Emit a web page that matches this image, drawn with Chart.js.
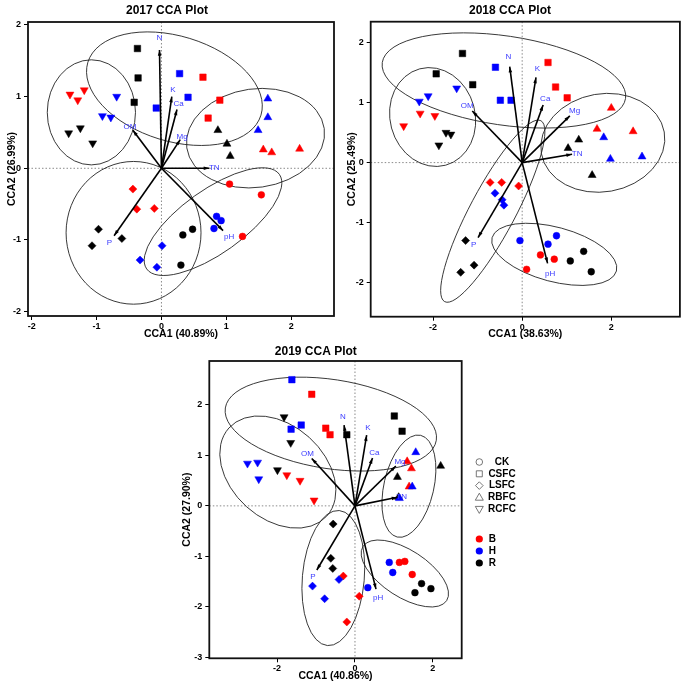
<!DOCTYPE html>
<html>
<head>
<meta charset="utf-8">
<script src="https://cdn.jsdelivr.net/npm/chart.js@4.4.0/dist/chart.umd.min.js"></script>
<style>
  body { margin: 0; background: #fff; width: 685px; height: 685px; position: relative; overflow: hidden; }
  .panel { position: absolute; }
</style>
</head>
<body>
<div class="panel" style="left:0;top:0;width:345px;height:345px"><canvas id="c2017"></canvas></div>
<div class="panel" style="left:340px;top:0;width:345px;height:345px"><canvas id="c2018"></canvas></div>
<div class="panel" style="left:170px;top:335px;width:360px;height:350px"><canvas id="c2019"></canvas></div>
<script>
// Categorias
const treatments = ['CK', 'CSFC', 'LSFC', 'RBFC', 'RCFC'];
const sites = ['B', 'H', 'R'];
const envVars = ['N', 'K', 'Ca', 'Mg', 'OM', 'TN', 'pH', 'P'];

// 2017 - puntos [CCA1, CCA2, sitio]
const ck2017 = [[1.05,-0.22,'B'],[1.54,-0.37,'B'],[1.25,-0.95,'B'],[0.85,-0.67,'H'],[0.92,-0.73,'H'],[0.81,-0.84,'H'],[0.33,-0.93,'R'],[0.48,-0.85,'R'],[0.30,-1.35,'R']];
const csfc2017 = [[0.64,1.27,'B'],[0.90,0.95,'B'],[0.72,0.70,'B'],[0.28,1.32,'H'],[0.41,0.99,'H'],[-0.08,0.84,'H'],[-0.37,1.67,'R'],[-0.36,1.26,'R'],[-0.42,0.92,'R']];
const lsfc2017 = [[-0.44,-0.29,'B'],[-0.38,-0.57,'B'],[-0.11,-0.56,'B'],[0.01,-1.08,'H'],[-0.33,-1.28,'H'],[-0.07,-1.38,'H'],[-0.97,-0.85,'R'],[-1.07,-1.08,'R'],[-0.61,-0.98,'R']];
const rbfc2017 = [[1.57,0.26,'B'],[1.70,0.22,'B'],[2.13,0.27,'B'],[1.64,0.97,'H'],[1.64,0.71,'H'],[1.49,0.53,'H'],[0.87,0.53,'R'],[1.01,0.34,'R'],[1.06,0.17,'R']];
const rcfc2017 = [[-1.41,1.03,'B'],[-1.29,0.95,'B'],[-1.19,1.09,'B'],[-0.69,1.00,'H'],[-0.91,0.73,'H'],[-0.78,0.71,'H'],[-1.43,0.49,'R'],[-1.25,0.56,'R'],[-1.06,0.35,'R']];
const envX2017 = [-0.03, 0.16, 0.24, 0.29, -0.44, 0.74, 0.95, -0.73];
const envY2017 = [1.65, 1.00, 0.82, 0.40, 0.53, 0.00, -0.87, -0.94];
// elipses [cx, cy, semieje a, semieje b, angulo] en orden CK, CSFC, LSFC, RBFC, RCFC
const ell2017 = [[0.795,-0.744,1.256,0.487,-35.5],[0.20,1.11,1.395,0.81,17],[-0.43,-0.90,1.10,1.04,90],[1.45,0.42,1.07,0.76,-8],[-1.08,0.78,0.81,0.68,90]];
const xLim2017 = [-2.057, 2.66];
const yLim2017 = [-2.06, 2.04];
const xTicks2017 = [-2, -1, 0, 1, 2];
const yTicks2017 = [-2, -1, 0, 1, 2];

// 2018
const ck2018 = [[0.41,-1.54,'B'],[0.72,-1.61,'B'],[0.10,-1.78,'B'],[-0.05,-1.30,'H'],[0.58,-1.36,'H'],[0.77,-1.22,'H'],[1.08,-1.64,'R'],[1.38,-1.48,'R'],[1.55,-1.82,'R']];
const csfc2018 = [[0.58,1.67,'B'],[0.75,1.26,'B'],[1.01,1.08,'B'],[-0.60,1.59,'H'],[-0.49,1.04,'H'],[-0.25,1.04,'H'],[-1.34,1.82,'R'],[-1.93,1.48,'R'],[-1.11,1.30,'R']];
const lsfc2018 = [[-0.72,-0.33,'B'],[-0.46,-0.33,'B'],[-0.08,-0.39,'B'],[-0.61,-0.51,'H'],[-0.45,-0.62,'H'],[-0.41,-0.71,'H'],[-1.27,-1.30,'R'],[-1.38,-1.83,'R'],[-1.08,-1.71,'R']];
const rbfc2018 = [[2.00,0.91,'B'],[1.68,0.56,'B'],[2.49,0.52,'B'],[1.83,0.42,'H'],[1.98,0.06,'H'],[2.69,0.10,'H'],[1.03,0.24,'R'],[1.27,0.38,'R'],[1.57,-0.21,'R']];
const rcfc2018 = [[-2.66,0.61,'B'],[-2.29,0.82,'B'],[-1.96,0.78,'B'],[-2.31,1.02,'H'],[-2.11,1.11,'H'],[-1.47,1.24,'H'],[-1.71,0.50,'R'],[-1.60,0.47,'R'],[-1.87,0.29,'R']];
const envX2018 = [-0.28, 0.31, 0.47, 1.07, -1.12, 1.12, 0.57, -0.99];
const envY2018 = [1.60, 1.42, 0.96, 0.78, 0.86, 0.14, -1.68, -1.25];
const ell2018 = [[0.72,-1.53,1.445,0.61,15],[-0.41,1.37,2.76,1.0,8.4],[-0.66,-0.81,2.30,0.51,-62],[1.81,0.33,1.40,1.10,-10],[-2.01,0.76,1.12,0.955,75]];
const xLim2018 = [-3.40, 3.54];
const yLim2018 = [-2.57, 2.35];
const xTicks2018 = [-2, 0, 2];
const yTicks2018 = [-2, -1, 0, 1, 2];

// 2019
const ck2019 = [[1.14,-1.12,'B'],[1.28,-1.10,'B'],[1.47,-1.36,'B'],[0.88,-1.12,'H'],[0.97,-1.32,'H'],[0.33,-1.62,'H'],[1.71,-1.54,'R'],[1.95,-1.64,'R'],[1.54,-1.72,'R']];
const csfc2019 = [[-1.11,2.21,'B'],[-0.75,1.54,'B'],[-0.64,1.41,'B'],[-1.62,2.50,'H'],[-1.64,1.52,'H'],[-1.38,1.60,'H'],[-0.21,1.41,'R'],[1.01,1.78,'R'],[1.21,1.48,'R']];
const lsfc2019 = [[-0.30,-1.39,'B'],[0.11,-1.79,'B'],[-0.21,-2.30,'B'],[-1.09,-1.59,'H'],[-0.41,-1.46,'H'],[-0.78,-1.84,'H'],[-0.56,-0.36,'R'],[-0.62,-1.04,'R'],[-0.57,-1.24,'R']];
const rbfc2019 = [[1.34,0.88,'B'],[1.45,0.74,'B'],[1.39,0.38,'B'],[1.56,1.06,'H'],[1.47,0.38,'H'],[1.14,0.15,'H'],[1.09,0.57,'R'],[2.20,0.79,'R'],[1.12,0.17,'R']];
const rcfc2019 = [[-1.75,0.61,'B'],[-1.41,0.50,'B'],[-1.05,0.11,'B'],[-2.76,0.84,'H'],[-2.50,0.86,'H'],[-2.47,0.53,'H'],[-1.82,1.76,'R'],[-1.65,1.25,'R'],[-1.99,0.71,'R']];
const envX2019 = [-0.28, 0.30, 0.45, 1.05, -1.11, 1.09, 0.54, -0.98];
const envY2019 = [1.60, 1.40, 0.95, 0.79, 0.94, 0.17, -1.65, -1.27];
const ell2019 = [[1.28,-1.34,1.28,0.60,33],[-0.62,1.62,2.74,1.145,8.7],[-0.556,-1.43,1.74,0.795,95],[1.385,0.39,1.34,0.64,103],[-1.98,0.67,1.69,1.20,42]];
const xLim2019 = [-3.74, 2.74];
const yLim2019 = [-3.02, 2.87];
const xTicks2019 = [-2, 0, 2];
const yTicks2019 = [-3, -2, -1, 0, 1, 2];

Chart.defaults.font.family = "'Liberation Sans', Arial, sans-serif";
Chart.defaults.color = '#000';

const siteColors = { B: '#ff0000', H: '#0000ff', R: '#000000' };
const shapeOf = { CK: 'circle', CSFC: 'rect', LSFC: 'rectRot', RBFC: 'triangle', RCFC: 'triangle' };
const sizeOf = { CK: 3.4, CSFC: 4.6, LSFC: 4.0, RBFC: 4.6, RCFC: 4.6 };

// Elipses, lineas en cero, flechas y recuadro
function overlayPlugin(ell, envX, envY) {
    return {
        id: 'ccaOverlay',
        beforeDatasetsDraw(chart) {
            const { ctx, chartArea: a, scales: { x, y } } = chart;
            ctx.save();
            ctx.beginPath();
            ctx.rect(a.left, a.top, a.right - a.left, a.bottom - a.top);
            ctx.clip();
            ctx.strokeStyle = '#8a8a8a';
            ctx.lineWidth = 1;
            ctx.setLineDash([1.5, 2]);
            ctx.beginPath();
            ctx.moveTo(x.getPixelForValue(0), a.top);
            ctx.lineTo(x.getPixelForValue(0), a.bottom);
            ctx.moveTo(a.left, y.getPixelForValue(0));
            ctx.lineTo(a.right, y.getPixelForValue(0));
            ctx.stroke();
            ctx.setLineDash([]);
            const k = x.getPixelForValue(1) - x.getPixelForValue(0);
            ctx.strokeStyle = '#222';
            ctx.lineWidth = 0.9;
            ell.forEach(e => {
                ctx.beginPath();
                ctx.ellipse(x.getPixelForValue(e[0]), y.getPixelForValue(e[1]), e[2] * k, e[3] * k, e[4] * Math.PI / 180, 0, 2 * Math.PI);
                ctx.stroke();
            });
            ctx.restore();
        },
        afterDatasetsDraw(chart) {
            const { ctx, chartArea: a, scales: { x, y } } = chart;
            const x0 = x.getPixelForValue(0), y0 = y.getPixelForValue(0);
            ctx.save();
            ctx.strokeStyle = '#000';
            ctx.fillStyle = '#000';
            ctx.lineWidth = 1.6;
            envVars.forEach((v, i) => {
                const x1 = x.getPixelForValue(envX[i]), y1 = y.getPixelForValue(envY[i]);
                const ang = Math.atan2(y1 - y0, x1 - x0);
                ctx.beginPath();
                ctx.moveTo(x0, y0);
                ctx.lineTo(x1, y1);
                ctx.stroke();
                // punta de flecha
                ctx.beginPath();
                ctx.moveTo(x1, y1);
                ctx.lineTo(x1 - 6 * Math.cos(ang - 0.3), y1 - 6 * Math.sin(ang - 0.3));
                ctx.lineTo(x1 - 6 * Math.cos(ang + 0.3), y1 - 6 * Math.sin(ang + 0.3));
                ctx.closePath();
                ctx.fill();
            });
            ctx.fillStyle = '#3b3bff';
            ctx.font = "8px 'Liberation Sans', Arial, sans-serif";
            ctx.textAlign = 'center';
            ctx.textBaseline = 'middle';
            envVars.forEach((v, i) => {
                ctx.fillText(v, x.getPixelForValue(envX[i] * 1.1), y.getPixelForValue(envY[i] * 1.1));
            });
            ctx.strokeStyle = '#111';
            ctx.lineWidth = 1.8;
            ctx.strokeRect(a.left, a.top, a.right - a.left, a.bottom - a.top);
            ctx.restore();
        }
    };
}

// Leyenda lateral del grafico 2019
function drawOpenShape(ctx, t, cx, cy) {
    ctx.beginPath();
    if (t === 'CK') {
        ctx.arc(cx, cy, 3.3, 0, 2 * Math.PI);
    } else if (t === 'CSFC') {
        ctx.rect(cx - 3, cy - 3, 6, 6);
    } else if (t === 'LSFC') {
        ctx.moveTo(cx, cy - 3.8); ctx.lineTo(cx + 3.8, cy); ctx.lineTo(cx, cy + 3.8); ctx.lineTo(cx - 3.8, cy); ctx.closePath();
    } else if (t === 'RBFC') {
        ctx.moveTo(cx, cy - 4.2); ctx.lineTo(cx + 4, cy + 2.8); ctx.lineTo(cx - 4, cy + 2.8); ctx.closePath();
    } else {
        ctx.moveTo(cx, cy + 4.2); ctx.lineTo(cx + 4, cy - 2.8); ctx.lineTo(cx - 4, cy - 2.8); ctx.closePath();
    }
    ctx.stroke();
}

const legendPlugin = {
    id: 'sideLegend',
    afterDraw(chart) {
        const { ctx, chartArea: a } = chart;
        ctx.save();
        ctx.font = "bold 10px 'Liberation Sans', Arial, sans-serif";
        ctx.textBaseline = 'middle';
        treatments.forEach((t, i) => {
            const cy = a.top + 101 + i * 11.8;
            ctx.strokeStyle = '#555';
            ctx.lineWidth = 0.8;
            drawOpenShape(ctx, t, a.right + 17.6, cy);
            ctx.fillStyle = '#000';
            ctx.textAlign = 'center';
            ctx.fillText(t, a.right + 40.3, cy);
        });
        sites.forEach((s, i) => {
            const cy = a.top + 178 + i * 12;
            ctx.fillStyle = siteColors[s];
            ctx.beginPath();
            ctx.arc(a.right + 17.6, cy, 3.6, 0, 2 * Math.PI);
            ctx.fill();
            ctx.fillStyle = '#000';
            ctx.textAlign = 'left';
            ctx.fillText(s, a.right + 27, cy);
        });
        ctx.restore();
    }
};

function makeChart(id, groups, ell, envX, envY, xLim, yLim, xTicks, yTicks, title, xTitle, yTitle, lay, extra) {
    const datasets = [];
    ['H', 'B', 'R'].forEach(site => {
        treatments.forEach((t, i) => {
            datasets.push({
                label: t + ' ' + site,
                data: groups[i].filter(p => p[2] === site).map(p => ({ x: p[0], y: p[1] })),
                pointStyle: shapeOf[t],
                rotation: t === 'RCFC' ? 180 : 0,
                pointRadius: sizeOf[t],
                backgroundColor: siteColors[site],
                borderColor: siteColors[site],
                borderWidth: 0.5
            });
        });
    });

    const gridOpts = { display: true, drawOnChartArea: false, drawTicks: true, tickLength: 4, color: '#000', lineWidth: 1 };
    const tickFont = { size: 9, weight: 'bold' };
    const titleFont = { size: 10.5, weight: 'bold' };

    new Chart(document.getElementById(id), {
        type: 'scatter',
        data: { datasets: datasets },
        options: {
            responsive: true,
            maintainAspectRatio: false,
            animation: false,
            events: [],
            layout: { padding: { left: 0, right: lay.padR, top: 0, bottom: 0 } },
            plugins: {
                legend: { display: false },
                tooltip: { enabled: false },
                title: {
                    display: true,
                    text: title,
                    color: '#000',
                    font: { size: 12, weight: 'bold' },
                    padding: { top: lay.tTop, bottom: lay.tBottom }
                }
            },
            scales: {
                x: {
                    type: 'linear',
                    min: xLim[0],
                    max: xLim[1],
                    afterBuildTicks: s => { s.ticks = xTicks.map(v => ({ value: v })); },
                    afterFit: s => { s.height = lay.xH; },
                    grid: gridOpts,
                    border: { display: false },
                    ticks: { font: tickFont, color: '#000', padding: 1, maxRotation: 0, autoSkip: false },
                    title: { display: true, text: xTitle, color: '#000', font: titleFont, padding: { top: 0, bottom: lay.xtPad } }
                },
                y: {
                    type: 'linear',
                    min: yLim[0],
                    max: yLim[1],
                    afterBuildTicks: s => { s.ticks = yTicks.map(v => ({ value: v })); },
                    afterFit: s => { s.width = lay.yW; },
                    grid: gridOpts,
                    border: { display: false },
                    ticks: { font: tickFont, color: '#000', padding: 3, autoSkip: false },
                    title: { display: true, text: yTitle, color: '#000', font: titleFont, padding: { top: lay.ytPad, bottom: 0 } }
                }
            }
        },
        plugins: [overlayPlugin(ell, envX, envY)].concat(extra)
    });
}

makeChart('c2017', [ck2017, csfc2017, lsfc2017, rbfc2017, rcfc2017], ell2017, envX2017, envY2017,
    xLim2017, yLim2017, xTicks2017, yTicks2017, '2017 CCA Plot', 'CCA1 (40.89%)', 'CCA2 (26.99%)',
    { padR: 11, tTop: 3.5, tBottom: 4.1, xH: 29, yW: 28, xtPad: 4.7, ytPad: 5.4 }, []);

makeChart('c2018', [ck2018, csfc2018, lsfc2018, rbfc2018, rcfc2018], ell2018, envX2018, envY2018,
    xLim2018, yLim2018, xTicks2018, yTicks2018, '2018 CCA Plot', 'CCA1 (38.63%)', 'CCA2 (25.49%)',
    { padR: 5, tTop: 3.5, tBottom: 3.8, xH: 28.3, yW: 30.7, xtPad: 4.7, ytPad: 5.4 }, []);

makeChart('c2019', [ck2019, csfc2019, lsfc2019, rbfc2019, rcfc2019], ell2019, envX2019, envY2019,
    xLim2019, yLim2019, xTicks2019, yTicks2019, '2019 CCA Plot', 'CCA1 (40.86%)', 'CCA2 (27.90%)',
    { padR: 68.3, tTop: 9.5, tBottom: 2.1, xH: 26.7, yW: 39.3, xtPad: 3, ytPad: 10.4 }, [legendPlugin]);
</script>
</body>
</html>
